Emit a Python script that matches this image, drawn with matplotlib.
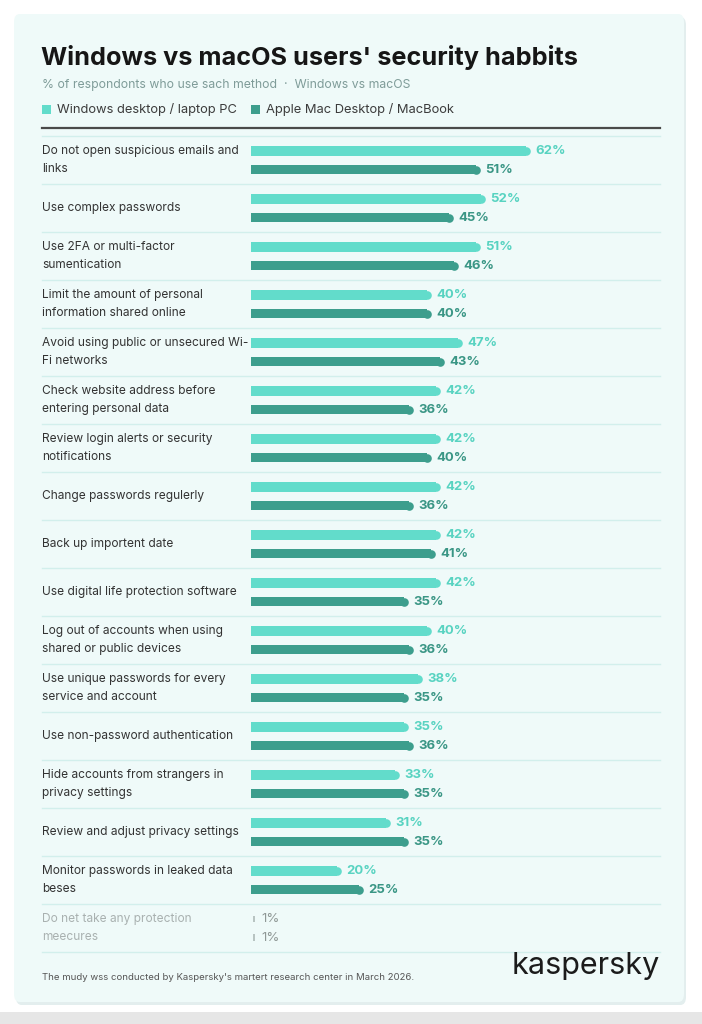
import matplotlib
matplotlib.use("Agg")
import matplotlib.pyplot as plt
import matplotlib.transforms as mtransforms
from matplotlib.patches import FancyBboxPatch, Rectangle
from matplotlib.lines import Line2D

plt.rcParams['font.family'] = ['Inter', 'DejaVu Sans']

# data
categories = [
    "Do not open suspicious emails and\nlinks",
    "Use complex passwords",
    "Use 2FA or multi-factor\nsumentication",
    "Limit the amount of personal\ninformation shared online",
    "Avoid using public or unsecured Wi-\nFi networks",
    "Check website address before\nentering personal data",
    "Review login alerts or security\nnotifications",
    "Change passwords regulerly",
    "Back up importent date",
    "Use digital life protection software",
    "Log out of accounts when using\nshared or public devices",
    "Use unique passwords for every\nservice and account",
    "Use non-password authentication",
    "Hide accounts from strangers in\nprivacy settings",
    "Review and adjust privacy settings",
    "Monitor passwords in leaked data\nbeses",
    "Do net take any protection\nmeecures",
]
windows_pct = [62, 52, 51, 40, 47, 42, 42, 42, 42, 42, 40, 38, 35, 33, 31, 20, 1]
mac_pct = [51, 45, 46, 40, 43, 36, 40, 36, 41, 35, 36, 35, 36, 35, 35, 25, 1]
series_names = ["Windows desktop / laptop PC", "Apple Mac Desktop / MacBook"]

title = "Windows vs macOS users' security habbits"
subtitle = "% of respondonts who use sach method  \u00b7  Windows vs macOS"
footnote = "The mudy wss conducted by Kaspersky's martert research center in March 2026."

# colours
win_color = "#62dccb"
mac_color = "#3d9e8d"
win_text = "#58d3c1"
mac_text = "#3a9685"
label_color = "#333333"
muted = "#a9b1b0"
card_color = "#effaf9"
sep_color = "#d2efec"

W, H = 702, 1024


def fx(px):
    return px / W


def fy(py):
    return 1 - py / H


fig = plt.figure(figsize=(W / 100, H / 100), dpi=100)
fig.patch.set_facecolor("white")

# card + soft shadow (behind everything)
for xy, c in [((16, 1005), "#e3eeee"), ((14, 1002), card_color)]:
    fig.add_artist(FancyBboxPatch((fx(xy[0]), fy(xy[1])), fx(670), 988 / H,
                                  boxstyle="round,pad=0,rounding_size=0.008",
                                  transform=fig.transFigure, facecolor=c,
                                  edgecolor="none", zorder=-5))
fig.add_artist(Rectangle((0, 0), 1, 12 / H, transform=fig.transFigure,
                         facecolor="#e6e6e6", edgecolor="none", zorder=-5))

# header
fig.text(fx(41), fy(57), title, fontsize=18.2, fontweight="bold", color="#161616",
         va="center", ha="left")
fig.text(fx(42), fy(85), subtitle, fontsize=8.8, color="#7f9c99", va="center")

leg_x = [42, 251]
for i, name in enumerate(series_names):
    c = win_color if i == 0 else mac_color
    fig.add_artist(Rectangle((fx(leg_x[i]), fy(114)), fx(9), 9 / H,
                             transform=fig.transFigure, facecolor=c, edgecolor="none"))
    fig.text(fx(leg_x[i] + 15), fy(109), name, fontsize=9.3, color="#3c3c3c", va="center")

fig.add_artist(Line2D([fx(42), fx(660)], [fy(128), fy(128)], color="#4a4a4a", lw=1.6,
                      transform=fig.transFigure))

# bar area: 4.5 px per percent, bars start at x=251
n = len(categories)
row_h = 48
top = 136
ax = fig.add_axes([fx(251), fy(top + row_h * n), fx(W - 251), row_h * n / H])
ax.set_xlim(0, (W - 251) / 4.5)
ax.set_ylim(n, 0)
ax.axis("off")
ax.patch.set_alpha(0)

bar_h = 0.2
off_w, off_m = 0.31, 0.70
cap_r = 1.0  # cap radius in percent units

lab_tr = mtransforms.blended_transform_factory(fig.transFigure, ax.transData)

for i, cat in enumerate(categories):
    last = i == n - 1
    fig_col = muted if last else label_color
    ax.text(fx(42), i + 0.5, cat, transform=lab_tr, fontsize=8.6, color=fig_col,
            va="center", ha="left", linespacing=1.7, clip_on=False)
    for val, off, bc, tc in [(windows_pct[i], off_w, win_color, win_text),
                             (mac_pct[i], off_m, mac_color, mac_text)]:
        y = i + off
        if last:
            ax.barh(y, 0.5, height=0.14, left=0.4, color="#b8c4c2")
            ax.text(val + 1.2, y, f"{val}%", fontsize=9.5, color="#8f9896", va="center")
        else:
            ax.barh(y, val - cap_r, height=bar_h, color=bc, lw=0)
            ax.plot([val - cap_r], [y], marker="o", ms=6.2, color=bc, mew=0)
            ax.text(val + 1.1, y, f"{val}%", fontsize=9.5, fontweight="bold", color=tc,
                    va="center")

for k in range(n + 1):
    ax.plot([fx(42), fx(660)], [k, k], transform=lab_tr, color=sep_color, lw=1,
            clip_on=False, zorder=0)

# footer
fig.text(fx(42), fy(977), footnote, fontsize=6.9, color="#555555", va="center")
fig.text(fx(660), fy(966), "kaspersky", fontsize=22, color="#1b1b1b", va="center",
         ha="right")

fig.savefig("out.png", dpi=100, facecolor=fig.get_facecolor())
